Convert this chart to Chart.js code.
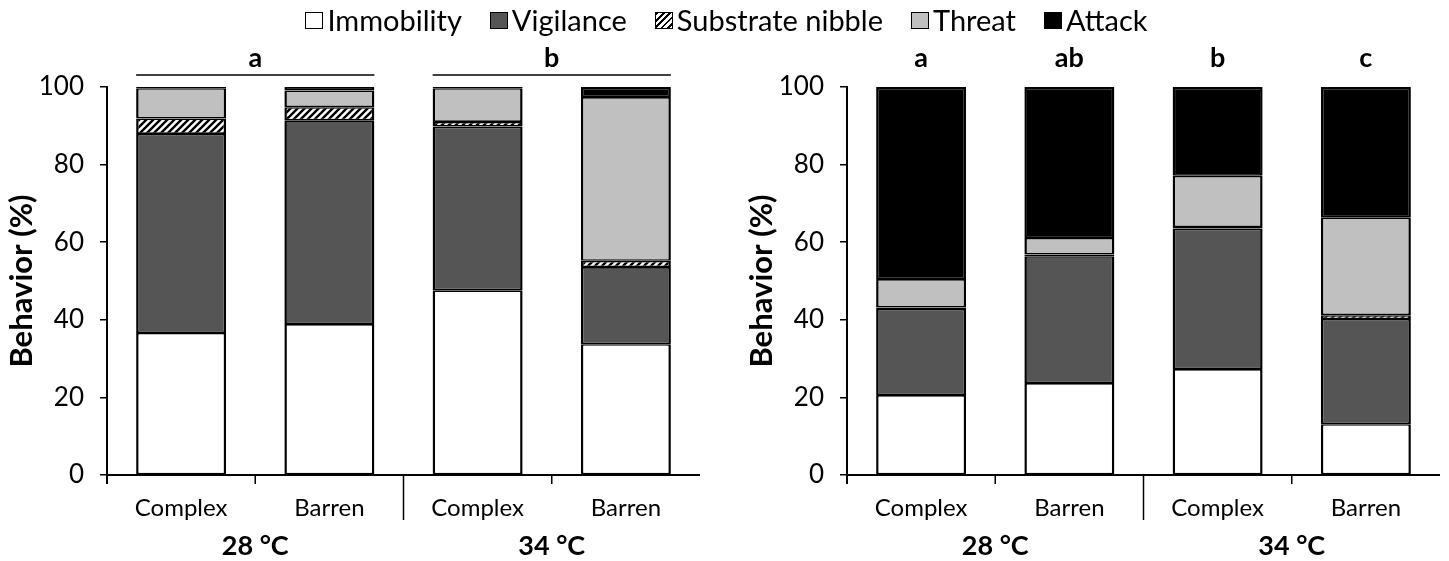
<!DOCTYPE html>
<html>
<head>
<meta charset="utf-8">
<script src="https://cdn.jsdelivr.net/npm/chart.js@4.4.1/dist/chart.umd.min.js"></script>
<style>
  body { margin: 0; background: #fff; width: 1449px; height: 561px; overflow: hidden; position: relative; font-family: Lato, sans-serif; }
  #legend { position: absolute; top: 2px; left: 2px; width: 1449px; display: flex; justify-content: center; font-size: 29px; line-height: 36px; color: #000; z-index: 2; }
  .item { display: flex; align-items: center; margin: 0 14px; }
  .box { width: 18px; height: 17px; border: 1.5px solid #000; margin-right: 4px; box-sizing: border-box; }
  canvas { position: absolute; top: 0; }
</style>
</head>
<body>
<div id="legend"></div>
<canvas id="left-chart" width="720" height="561" style="left:0"></canvas>
<canvas id="right-chart" width="709" height="561" style="left:740px"></canvas>
<script>
// Data
const categories = ["Complex", "Barren", "Complex", "Barren"];
const groups = ["28 °C", "34 °C"];
const seriesNames = ["Immobility", "Vigilance", "Substrate nibble", "Threat", "Attack"];

// Left panel (values in %)
const leftImmobility = [36.6, 38.9, 47.6, 33.7];
const leftVigilance = [51.3, 52.5, 42.2, 19.9];
const leftNibble = [4.0, 3.4, 1.2, 1.6];
const leftThreat = [7.8, 4.3, 8.7, 42.2];
const leftAttack = [0.3, 0.9, 0.3, 2.6];
const leftLetters = ["a", "b"];

// Right panel (values in %)
const rightImmobility = [20.6, 23.7, 27.3, 13.1];
const rightVigilance = [22.2, 32.7, 36.2, 27.1];
const rightNibble = [0.4, 0.4, 0.4, 1.0];
const rightThreat = [7.3, 4.3, 13.2, 25.2];
const rightAttack = [49.5, 38.9, 22.9, 33.6];
const rightLetters = ["a", "ab", "b", "c"];

// Colours
const immobilityColor = "#ffffff";
const vigilanceColor = "#555555";
const threatColor = "#c0c0c0";
const attackColor = "#000000";

// Diagonal hatch for substrate nibble
function makeHatch() {
    const size = 7;
    const c = document.createElement("canvas");
    c.width = size;
    c.height = size;
    const g = c.getContext("2d");
    g.fillStyle = "#fff";
    g.fillRect(0, 0, size, size);
    g.strokeStyle = "#000";
    g.lineWidth = 2.4;
    g.beginPath();
    g.moveTo(0, size);
    g.lineTo(size, 0);
    g.moveTo(-2, 2);
    g.lineTo(2, -2);
    g.moveTo(size - 2, size + 2);
    g.lineTo(size + 2, size - 2);
    g.stroke();
    return g.createPattern(c, "repeat");
}
const hatch = makeHatch();

// Legend
const legendStyles = [
    "background:" + immobilityColor,
    "background:" + vigilanceColor,
    "background: repeating-linear-gradient(135deg, #000 0 2px, #fff 2px 4.5px)",
    "background:" + threatColor,
    "background:" + attackColor,
];
const legendEl = document.getElementById("legend");
seriesNames.forEach((name, i) => {
    const item = document.createElement("div");
    item.className = "item";
    item.innerHTML = '<span class="box" style="' + legendStyles[i] + '"></span><span>' + name + "</span>";
    legendEl.appendChild(item);
});

function buildDatasets(values) {
    const fills = [immobilityColor, vigilanceColor, hatch, threatColor, attackColor];
    return values.map((data, i) => ({
        label: seriesNames[i],
        data: data,
        // very thin hatched slices are just borders in the original
        backgroundColor: i == 2 ? (c) => (c.raw < 0.6 ? "#000" : hatch) : fills[i],
        borderColor: "#000",
        // thicker sides, thinner joins so stacked joins look like one line
        borderWidth: {
            left: 2.5,
            right: 2.5,
            top: i == values.length - 1 ? 2.5 : 1.6,
            bottom: 1.6,
        },
        borderSkipped: false,
        barPercentage: 0.607,
        categoryPercentage: 1.0,
    }));
}

// Axes, group labels and significance letters
function decorPlugin(letters, grouped) {
    return {
        id: "decor",
        afterDraw(chart) {
            const ctx = chart.ctx;
            const area = chart.chartArea;
            const x = chart.scales.x;
            const bars = chart.getDatasetMeta(0).data;
            ctx.save();
            ctx.strokeStyle = "#000";
            ctx.fillStyle = "#000";

            // x axis line
            ctx.lineWidth = 2;
            ctx.beginPath();
            ctx.moveTo(area.left - 1, area.bottom);
            ctx.lineTo(area.right, area.bottom);
            ctx.stroke();

            // y axis drop below x axis
            ctx.beginPath();
            ctx.moveTo(area.left, area.bottom);
            ctx.lineTo(area.left, area.bottom + 9);
            ctx.stroke();

            // category boundary ticks
            ctx.lineWidth = 1.5;
            for (let i = 1; i < categories.length; i++) {
                const bx = (x.getPixelForValue(i - 1) + x.getPixelForValue(i)) / 2;
                ctx.beginPath();
                ctx.moveTo(bx, area.bottom);
                ctx.lineTo(bx, area.bottom + (i == 2 ? 45 : 9));
                ctx.stroke();
            }

            // group labels
            ctx.font = "bold 27px Lato";
            ctx.textAlign = "center";
            ctx.textBaseline = "middle";
            groups.forEach((g, j) => {
                const gx = (x.getPixelForValue(j * 2) + x.getPixelForValue(j * 2 + 1)) / 2;
                ctx.fillText(g, gx, area.bottom + 71);
            });

            // letters
            ctx.font = "bold 27px Lato";
            if (grouped) {
                letters.forEach((l, j) => {
                    const b1 = bars[j * 2];
                    const b2 = bars[j * 2 + 1];
                    const x1 = b1.x - b1.width / 2;
                    const x2 = b2.x + b2.width / 2;
                    ctx.fillText(l, (x1 + x2) / 2, 58);
                    ctx.lineWidth = 1.5;
                    ctx.beginPath();
                    ctx.moveTo(x1, 75);
                    ctx.lineTo(x2, 75);
                    ctx.stroke();
                });
            } else {
                letters.forEach((l, j) => {
                    ctx.fillText(l, bars[j].x, 58);
                });
            }
            ctx.restore();
        },
    };
}

function makeChart(id, values, letters, grouped, rightPad) {
    const ctx = document.getElementById(id).getContext("2d");
    return new Chart(ctx, {
        type: "bar",
        data: {
            labels: categories,
            datasets: buildDatasets(values),
        },
        options: {
            responsive: false,
            animation: false,
            layout: {
                padding: { top: 87, right: rightPad, bottom: 0, left: 0 },
            },
            plugins: {
                legend: { display: false },
                tooltip: { enabled: false },
            },
            scales: {
                x: {
                    stacked: true,
                    grid: { display: false, drawTicks: false },
                    border: { display: false },
                    ticks: {
                        color: "#000",
                        font: { family: "Lato", size: 24 },
                        padding: 19,
                        maxRotation: 0,
                    },
                    afterFit: (scale) => {
                        scale.height = 86;
                    },
                },
                y: {
                    stacked: true,
                    min: 0,
                    max: 100,
                    grid: {
                        display: true,
                        drawOnChartArea: false,
                        drawTicks: true,
                        tickLength: 7,
                        color: "#000",
                        lineWidth: 1.5,
                    },
                    border: { display: true, color: "#000", width: 2 },
                    ticks: {
                        stepSize: 20,
                        color: "#000",
                        font: { family: "Lato", size: 26 },
                        padding: 16,
                    },
                    title: {
                        display: true,
                        text: "Behavior (%)",
                        color: "#000",
                        font: { family: "Lato", size: 31, weight: "bold" },
                        padding: { top: 3, bottom: 0 },
                    },
                    afterFit: (scale) => {
                        scale.width = 107;
                    },
                },
            },
        },
        plugins: [decorPlugin(letters, grouped)],
    });
}

makeChart("left-chart",
    [leftImmobility, leftVigilance, leftNibble, leftThreat, leftAttack],
    leftLetters, true, 20);
makeChart("right-chart",
    [rightImmobility, rightVigilance, rightNibble, rightThreat, rightAttack],
    rightLetters, false, 9);
</script>
</body>
</html>
